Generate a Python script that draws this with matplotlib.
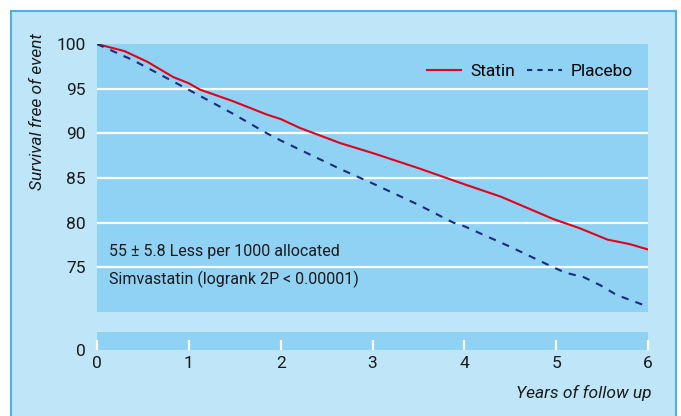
import matplotlib.pyplot as plt
from matplotlib.patches import Rectangle
from matplotlib.lines import Line2D

# Data (years, % survival free of event)
years_statin = [0, 0.3, 0.55, 0.83, 1.0, 1.12, 1.48, 1.85, 2.0, 2.21, 2.65, 3.0, 3.5, 4.0, 4.4, 4.97, 5.25, 5.56, 5.8, 6.0]
statin = [100, 99.2, 98.0, 96.3, 95.6, 94.9, 93.6, 92.1, 91.6, 90.6, 88.9, 87.8, 86.1, 84.3, 82.9, 80.4, 79.4, 78.1, 77.6, 77.0]
years_placebo = [0, 0.39, 0.94, 1.48, 1.85, 2.0, 2.65, 3.0, 3.5, 3.88, 4.0, 4.5, 4.97, 5.1, 5.3, 5.48, 5.66, 6.0]
placebo = [100, 98.2, 95.2, 92.2, 90.0, 89.2, 86.0, 84.4, 82.0, 80.0, 79.6, 77.3, 75.0, 74.4, 73.9, 73.0, 71.9, 70.6]

xticks = [0, 1, 2, 3, 4, 5, 6]
yticks = [75, 80, 85, 90, 95, 100]

outer_bg = "#bee6f8"
panel_bg = "#8fd2f4"
red = "#e3001b"
navy = "#1c2a7e"
plt.rcParams["font.family"] = ["Roboto", "DejaVu Sans"]
txt = "#1a1a1a"

W, H = 681, 416
fig = plt.figure(figsize=(W / 100, H / 100), dpi=100)
fig.patch.set_facecolor("white")
fig.patches.append(Rectangle((11 / W, -0.01), 665 / W, (H - 11) / H + 0.01,
                             transform=fig.transFigure, fc=outer_bg, ec="#4fb0e8", lw=1.5, zorder=-10))

# upper panel
ax = fig.add_axes([97 / W, (H - 312) / H, 551 / W, 268 / H])
ax.set_facecolor(panel_bg)
ax.plot(years_statin, statin, color=red, lw=1.5, zorder=3)
ax.plot(years_placebo, placebo, color=navy, lw=1.5, ls=(0, (3.5, 3.5)), zorder=3)
ax.set_xlim(0, 6)
ax.set_ylim(70, 100)
ax.set_yticks(yticks)
ax.set_xticks([])
for yv in yticks[:-1]:
    ax.axhline(yv, color="white", lw=1.6, zorder=1)
ax.tick_params(axis="y", length=0, labelsize=12.5, colors=txt, pad=8)
for s in ax.spines.values():
    s.set_visible(False)

ax.text(0.13, 76.8, "55 ± 5.8 Less per 1000 allocated", fontsize=11.5, color=txt, va="center")
ax.text(0.13, 73.6, "Simvastatin (logrank 2P < 0.00001)", fontsize=11.5, color=txt, va="center")

handles = [Line2D([], [], color=red, lw=1.5),
           Line2D([], [], color=navy, lw=1.5, ls=(0, (2.5, 2.5)))]
ax.legend(handles, ["Statin", "Placebo"], loc="upper right", ncol=2, frameon=False,
          fontsize=12.5, handlelength=2.0, columnspacing=0.7, handletextpad=0.5,
          bbox_to_anchor=(1.0, 0.985))

# lower panel (broken axis near zero)
ax2 = fig.add_axes([97 / W, (H - 350) / H, 551 / W, 18 / H])
ax2.set_facecolor(panel_bg)
ax2.set_xlim(0, 6)
ax2.set_ylim(0, 2)
ax2.set_yticks([0])
ax2.set_xticks(xticks)
for s in ax2.spines.values():
    s.set_visible(False)
ax2.tick_params(axis="y", length=0, labelsize=12.5, colors=txt, pad=8)
ax2.tick_params(axis="x", direction="in", length=7, width=1.6, color="white",
                labelsize=12.5, labelcolor=txt, pad=4)

fig.text(38 / W, 1 - 112 / H, "Survival free of event", rotation=90, style="italic",
         fontsize=12.5, color=txt, ha="center", va="center")
fig.text(652 / W, 1 - 393 / H, "Years of follow up", style="italic",
         fontsize=12.5, color=txt, ha="right", va="center")

fig.savefig("out.png", dpi=100)
